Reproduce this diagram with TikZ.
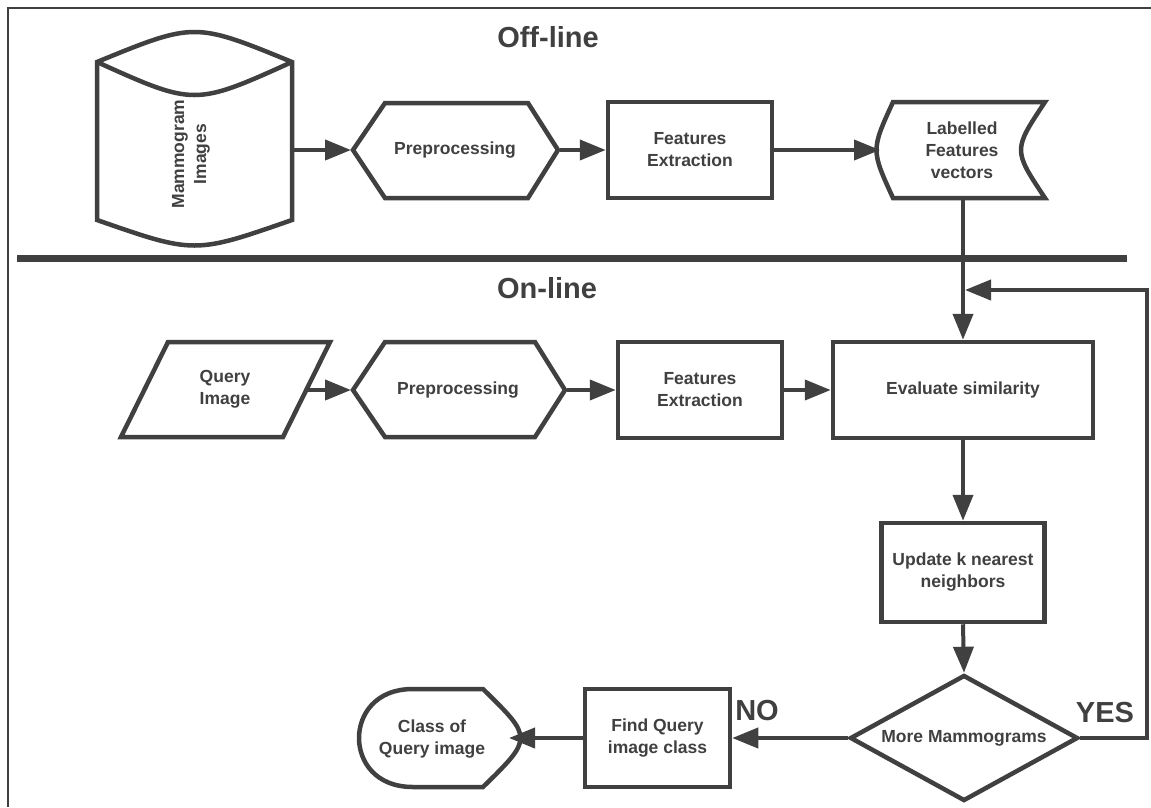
\documentclass[tikz,border=0pt]{standalone}
\usepackage{fontspec}
\setmainfont{Liberation Sans}
\usetikzlibrary{arrows.meta,shapes.geometric}
\definecolor{ink}{HTML}{404040}
\begin{document}
\begin{tikzpicture}[x=1pt,y=-1pt,
  shp/.style={draw=ink, line width=4.5pt, line join=miter, fill=white},
  box/.style={shp, rectangle, inner sep=0pt, text=ink, align=center, font=\bfseries\fontsize{17.5}{22}\selectfont},
  conn/.style={draw=ink, line width=4pt, -{Triangle[length=26pt,width=20pt]}},
  lbl/.style={text=ink, font=\bfseries\fontsize{17.5}{22}\selectfont, align=center, inner sep=0pt},
  bigtxt/.style={text=ink, font=\bfseries\fontsize{29}{34}\selectfont, inner sep=0pt},
]
\useasboundingbox (0,0) rectangle (1151,807);
\fill[white] (0,0) rectangle (1151,807);

% frame
\coordinate (fa) at (8,807); \coordinate (fb) at (8,8); \coordinate (fc) at (1151,8);
\draw[ink, line width=2pt] (fa) -- (fb) -- (fc);

% titles
\node[bigtxt, anchor=base] (off) at (548,47) {Off-line};
\node[bigtxt, anchor=base] (on) at (547,298) {On-line};

% separator
\coordinate (sepL) at (17,258); \coordinate (sepR) at (1127,258);

% cylinder
\draw[shp] (97,62) -- (97,220) .. controls (194.5,254) .. (292,220) -- (292,62) .. controls (194.5,22) .. (97,62) -- cycle;
\draw[shp] (97,62) .. controls (194.5,106) .. (292,62);
\node[lbl, rotate=90] (mi) at (191,154) {Mammogram\\Images};
\coordinate (cyl-e) at (294,150);

% hexagon 1
\draw[shp] (353,150) -- (385,103) -- (528,103) -- (558,150) -- (528,198) -- (385,198) -- cycle;
\node[lbl] (pp1) at (455,150) {Preprocessing};
\coordinate (h1w) at (351,150); \coordinate (h1e) at (560,150);

% features extraction 1
\node[box, minimum width=164pt, minimum height=96pt] (fe1) at (690,150) {Features\\Extraction};

% tape
\draw[shp] (893,102) -- (1045,102) .. controls (1013,150) .. (1045,198) -- (893,198) .. controls (871,150) .. (893,102) -- cycle;
\node[lbl] (lfv) at (962,150) {Labelled\\Features\\vectors};
\coordinate (tape-w) at (880,150); \coordinate (tape-s) at (963,200);

% query image parallelogram
\draw[shp] (121,437) -- (168,342) -- (330,342) -- (283,437) -- cycle;
\node[lbl] (qi) at (225,389) {Query\\Image};
\coordinate (q-e) at (308,390);

% hexagon 2
\draw[shp] (353,390) -- (385,342) -- (535,342) -- (565,390) -- (535,437) -- (385,437) -- cycle;
\node[lbl] (pp2) at (458,390) {Preprocessing};
\coordinate (h2w) at (351,390); \coordinate (h2e) at (567,390);

% features extraction 2
\node[box, minimum width=164pt, minimum height=96pt] (fe2) at (700,390) {Features\\Extraction};

% evaluate similarity
\node[box, minimum width=260pt, minimum height=96pt] (ev) at (963,390) {Evaluate similarity};

% update
\node[box, minimum width=163pt, minimum height=99pt] (up) at (963,572.5) {Update k nearest\\neighbors};

% diamond
\node[shp, diamond, aspect=1.81, minimum width=228pt, minimum height=126pt, inner sep=0pt, text=ink, font=\bfseries\fontsize{17.5}{22}\selectfont] (dm) at (964,738) {More Mammograms};

% find query image class
\node[box, minimum width=145pt, minimum height=98pt] (find) at (657.5,738) {Find Query\\image class};

% class of query image (display shape)
\draw[shp] (413,689) -- (483,689) .. controls (533,738) .. (483,787) -- (413,787)
  .. controls (375,787) and (359,761) .. (359,738) .. controls (359,715) and (375,689) .. (413,689) -- cycle;
\node[lbl] (cls) at (432,739) {Class of\\Query image};
\coordinate (cls-e) at (509,738);

% labels
\node[bigtxt] (no) at (757,711) {NO};
\node[bigtxt] (yes) at (1105,713) {YES};

% loop coordinates
\coordinate (loop) at (1147,290);
\coordinate (join) at (965,290);

% connectors
\draw[conn] (cyl-e) -- (h1w);
\draw[conn] (h1e) -- (fe1.west);
\draw[conn] (fe1.east) -- (tape-w);
\draw[conn] (tape-s) -- (ev.north);
\draw[ink, line width=7pt] (sepL) -- (sepR);
\draw[conn] (q-e) -- (h2w);
\draw[conn] (h2e) -- (fe2.west);
\draw[conn] (fe2.east) -- (ev.west);
\draw[conn] (ev.south) -- (up.north);
\draw[conn] (up.south) -- (dm.north);
\draw[conn] (dm.west) -- (find.east);
\draw[conn] (find.west) -- (cls-e);
\draw[conn] (dm.east) -| (loop) -- (join);
\end{tikzpicture}
\end{document}
